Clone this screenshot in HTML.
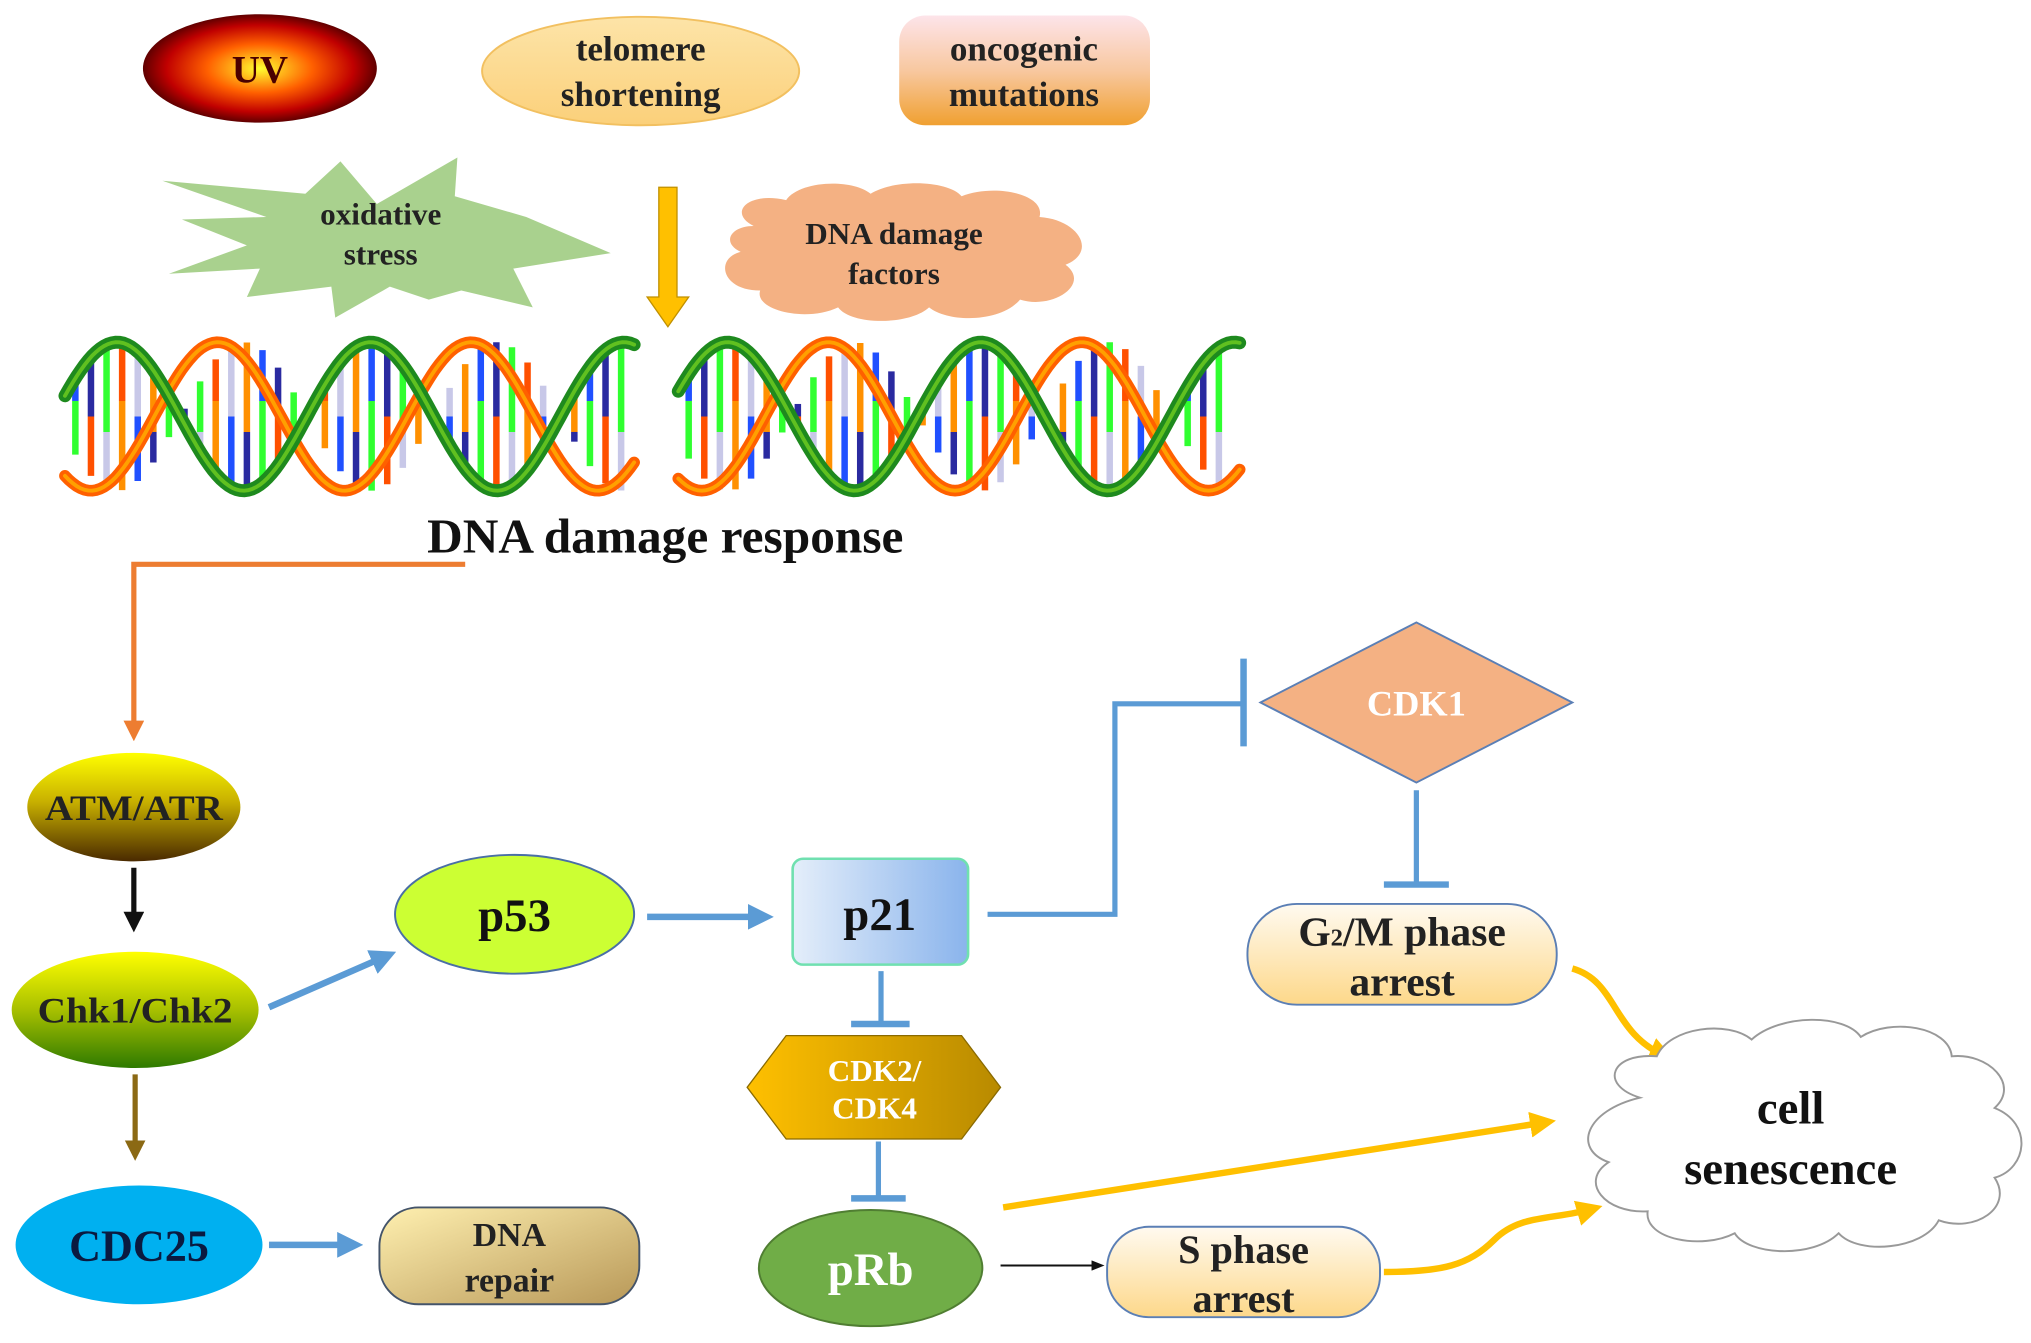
<!DOCTYPE html>
<html><head><meta charset="utf-8"><style>
html,body{margin:0;padding:0;background:#fff;}
svg{display:block;}
text{font-family:"Liberation Serif",serif;font-weight:bold;text-anchor:middle;}
</style></head><body>
<svg id="s" width="2031" height="1343" viewBox="0 0 1563 1040" preserveAspectRatio="none" xmlns="http://www.w3.org/2000/svg">
<defs>
<radialGradient id="uv" cx="50%" cy="50%" r="50%"><stop offset="0" stop-color="#ffff30"/><stop offset="0.45" stop-color="#ff6000"/><stop offset="0.8" stop-color="#c00000"/><stop offset="1" stop-color="#600000"/></radialGradient>
<linearGradient id="onc" x1="0" y1="0" x2="0" y2="1"><stop offset="0" stop-color="#fde4ea"/><stop offset="0.5" stop-color="#f8c8a0"/><stop offset="1" stop-color="#f0a030"/></linearGradient>
<linearGradient id="atm" x1="0" y1="0" x2="0" y2="1"><stop offset="0" stop-color="#ffff00"/><stop offset="0.45" stop-color="#c8b000"/><stop offset="1" stop-color="#4a2a00"/></linearGradient>
<linearGradient id="chk" x1="0" y1="0" x2="0" y2="1"><stop offset="0" stop-color="#ffff00"/><stop offset="0.5" stop-color="#a8c000"/><stop offset="1" stop-color="#2e7a00"/></linearGradient>
<linearGradient id="rep" x1="0" y1="0" x2="1" y2="1"><stop offset="0" stop-color="#fff0b0"/><stop offset="1" stop-color="#b89858"/></linearGradient>
<linearGradient id="p21" x1="0" y1="0" x2="1" y2="0"><stop offset="0" stop-color="#e4eefa"/><stop offset="1" stop-color="#8ab4ec"/></linearGradient>
<linearGradient id="hex" x1="0" y1="0" x2="1" y2="0"><stop offset="0" stop-color="#ffc000"/><stop offset="1" stop-color="#b88a00"/></linearGradient>
<linearGradient id="ph" x1="0" y1="0" x2="0" y2="1"><stop offset="0" stop-color="#fffaf0"/><stop offset="1" stop-color="#fdd88a"/></linearGradient>
<linearGradient id="tel" x1="0" y1="0" x2="0" y2="1"><stop offset="0" stop-color="#fde4a8"/><stop offset="1" stop-color="#fbd07a"/></linearGradient>
<marker id="ab" markerWidth="4" markerHeight="4" refX="2.5" refY="2" orient="auto" markerUnits="strokeWidth"><path d="M0,0L4,2L0,4z" fill="#5b9bd5"/></marker>
<marker id="ay" markerWidth="4" markerHeight="4" refX="2.5" refY="2" orient="auto" markerUnits="strokeWidth"><path d="M0,0L4,2L0,4z" fill="#ffc000"/></marker>
<marker id="ak" markerWidth="4" markerHeight="4" refX="2.5" refY="2" orient="auto" markerUnits="strokeWidth"><path d="M0,0L4,2L0,4z" fill="#111"/></marker>
<marker id="akt" markerWidth="10" markerHeight="8" refX="8" refY="4" orient="auto" markerUnits="userSpaceOnUse"><path d="M0,0L10,4L0,8z" fill="#111"/></marker>
<marker id="abr" markerWidth="4" markerHeight="4" refX="2.5" refY="2" orient="auto" markerUnits="strokeWidth"><path d="M0,0L4,2L0,4z" fill="#8b6914"/></marker>
<marker id="ao" markerWidth="4" markerHeight="4" refX="2.5" refY="2" orient="auto" markerUnits="strokeWidth"><path d="M0,0L4,2L0,4z" fill="#ed7d31"/></marker>
</defs>
<g id="dna"></g>
<ellipse cx="200" cy="53" rx="90" ry="42" fill="url(#uv)"/>
<text x="200" y="64" font-size="30" fill="#4a0000">UV</text>
<ellipse cx="493" cy="55" rx="122" ry="42" fill="url(#tel)" stroke="#f2c060" stroke-width="1.5"/>
<text x="493" y="47" font-size="27" fill="#222">telomere</text>
<text x="493" y="82" font-size="27" fill="#222">shortening</text>
<rect x="692" y="12" width="193" height="85" rx="20" fill="url(#onc)"/>
<text x="788" y="47" font-size="27" fill="#222">oncogenic</text>
<text x="788" y="82" font-size="27" fill="#222">mutations</text>
<polygon points="125,140 235,150 262,125 290,158 352,122 350,152 405,168 470,196 395,208 410,238 355,225 330,232 300,222 258,246 255,222 190,230 200,208 130,212 190,190 140,170 205,168" fill="#a9d18e"/>
<text x="293" y="174" font-size="24" fill="#222">oxidative</text>
<text x="293" y="205" font-size="24" fill="#222">stress</text>
<path d="M507,145 H521 V230 H530 L514,253 L498,230 H507 Z" fill="#ffc000" stroke="#c09000" stroke-width="1"/>
<path d="M580,175 C560,165 575,148 605,155 C615,140 655,138 670,150 C690,138 730,140 740,152 C765,142 805,150 800,168 C830,170 845,195 820,205 C840,220 810,240 785,232 C770,250 730,250 715,238 C700,252 655,252 645,238 C620,250 580,240 585,225 C555,225 550,200 570,195 C555,188 562,175 580,175 Z" fill="#f4b183"/>
<text x="688" y="189" font-size="24" fill="#222">DNA damage</text>
<text x="688" y="220" font-size="24" fill="#222">factors</text>
<text x="512" y="428" font-size="38" fill="#111">DNA damage response</text>
<polyline points="358,437 103,437 103,568" fill="none" stroke="#ed7d31" stroke-width="4" marker-end="url(#ao)"/>
<ellipse cx="103" cy="625" rx="82" ry="42" fill="url(#atm)"/>
<text x="103" y="635" font-size="28" fill="#222" textLength="137" lengthAdjust="spacingAndGlyphs">ATM/ATR</text>
<line x1="103" y1="672" x2="103" y2="716" stroke="#111" stroke-width="4" marker-end="url(#ak)"/>
<ellipse cx="104" cy="782" rx="95" ry="45" fill="url(#chk)"/>
<text x="104" y="792" font-size="28" fill="#222" textLength="150" lengthAdjust="spacingAndGlyphs">Chk1/Chk2</text>
<line x1="104" y1="832" x2="104" y2="893" stroke="#8b6914" stroke-width="4" marker-end="url(#abr)"/>
<ellipse cx="107" cy="964" rx="95" ry="46" fill="#00b0f0"/>
<text x="107" y="976" font-size="34" fill="#0a1a40">CDC25</text>
<line x1="207" y1="964" x2="272" y2="964" stroke="#5b9bd5" stroke-width="5" marker-end="url(#ab)"/>
<rect x="292" y="935" width="200" height="75" rx="30" fill="url(#rep)" stroke="#44546a" stroke-width="1.5"/>
<text x="392" y="965" font-size="26" fill="#222">DNA</text>
<text x="392" y="1000" font-size="26" fill="#222">repair</text>
<line x1="207" y1="780" x2="298" y2="740" stroke="#5b9bd5" stroke-width="5" marker-end="url(#ab)"/>
<ellipse cx="396" cy="708" rx="92" ry="46" fill="#ccff33" stroke="#4a6fa5" stroke-width="1.5"/>
<text x="396" y="721" font-size="36" fill="#111">p53</text>
<line x1="498" y1="710" x2="588" y2="710" stroke="#5b9bd5" stroke-width="5" marker-end="url(#ab)"/>
<rect x="610" y="665" width="135" height="82" rx="8" fill="url(#p21)" stroke="#70e0b0" stroke-width="2"/>
<text x="677" y="720" font-size="36" fill="#111">p21</text>
<polyline points="760,708 858,708 858,545 955,545" fill="none" stroke="#5b9bd5" stroke-width="4"/>
<line x1="957" y1="510" x2="957" y2="578" stroke="#5b9bd5" stroke-width="5"/>
<polygon points="970,544 1090,482 1210,544 1090,606" fill="#f4b183" stroke="#5b7fb5" stroke-width="1.5"/>
<text x="1090" y="554" font-size="28" fill="#fff">CDK1</text>
<line x1="1090" y1="612" x2="1090" y2="684" stroke="#5b9bd5" stroke-width="4"/>
<line x1="1065" y1="685" x2="1115" y2="685" stroke="#5b9bd5" stroke-width="5"/>
<rect x="960" y="700" width="238" height="78" rx="38" fill="url(#ph)" stroke="#5b7fb5" stroke-width="1.5"/>
<text x="1079" y="732" font-size="32" fill="#222">G<tspan font-size="19">2</tspan>/M phase</text>
<text x="1079" y="771" font-size="32" fill="#222">arrest</text>
<line x1="678" y1="752" x2="678" y2="792" stroke="#5b9bd5" stroke-width="4"/>
<line x1="655" y1="793" x2="700" y2="793" stroke="#5b9bd5" stroke-width="5"/>
<polygon points="575,842 605,802 740,802 770,842 740,882 605,882" fill="url(#hex)" stroke="#8a6a00" stroke-width="1"/>
<text x="673" y="837" font-size="24" fill="#fff">CDK2/</text>
<text x="673" y="866" font-size="24" fill="#fff">CDK4</text>
<line x1="676" y1="884" x2="676" y2="927" stroke="#5b9bd5" stroke-width="4"/>
<line x1="655" y1="928" x2="697" y2="928" stroke="#5b9bd5" stroke-width="5"/>
<ellipse cx="670" cy="982" rx="86" ry="45" fill="#70ad47" stroke="#507e32" stroke-width="1.5"/>
<text x="670" y="995" font-size="36" fill="#fff">pRb</text>
<line x1="770" y1="980" x2="848" y2="980" stroke="#111" stroke-width="1.5" marker-end="url(#akt)"/>
<rect x="852" y="950" width="210" height="70" rx="32" fill="url(#ph)" stroke="#5b7fb5" stroke-width="1.5"/>
<text x="957" y="978" font-size="31" fill="#222">S phase</text>
<text x="957" y="1016" font-size="31" fill="#222">arrest</text>
<line x1="772" y1="935" x2="1190" y2="869" stroke="#ffc000" stroke-width="5" marker-end="url(#ay)"/>
<path d="M1210,750 C1245,760 1240,800 1282,818" fill="none" stroke="#ffc000" stroke-width="5" marker-end="url(#ay)"/>
<path d="M1065,985 C1110,985 1130,980 1150,960 C1170,940 1195,945 1226,936" fill="none" stroke="#ffc000" stroke-width="5" marker-end="url(#ay)"/>
<path d="M1262,850 C1230,840 1240,815 1275,818 C1285,795 1330,790 1348,805 C1370,785 1420,785 1432,803 C1455,788 1500,795 1502,818 C1530,815 1555,840 1535,858 C1565,870 1560,905 1535,912 C1550,935 1520,955 1492,945 C1480,968 1430,972 1415,955 C1395,975 1345,972 1335,955 C1310,968 1265,960 1268,938 C1235,940 1215,915 1238,900 C1210,890 1220,860 1262,850 Z" fill="#fff" stroke="#999" stroke-width="1.5"/>
<text x="1378" y="870" font-size="36" fill="#111">cell</text>
<text x="1378" y="917" font-size="36" fill="#111">senescence</text>
</svg>
<script>
(function(){
var g=document.getElementById('dna'),NS='http://www.w3.org/2000/svg';
function el(n,a){var e=document.createElementNS(NS,n);for(var k in a)e.setAttribute(k,a[k]);g.appendChild(e);return e;}
function helix(x0,x1,ph){
 var top=265,bot=380,mid=(top+bot)/2,amp=(bot-top)/2,P=195;
 var cols=['#2050ff','#2a2aa0','#30ff30','#ff5000','#c8c8e8','#ff9000'];
 var i=0;
 for(var x=x0+8;x<x1-5;x+=12){
   var a=mid-amp*Math.cos((x-ph)*2*Math.PI/P),b=mid+amp*Math.cos((x-ph)*2*Math.PI/P);
   var y1=Math.min(a,b),y2=Math.max(a,b);
   if(y2-y1<10)continue;
   var ym=(y1+y2)/2+((i%3)-1)*12;
   el('line',{x1:x,y1:y1,x2:x,y2:ym,stroke:cols[i%6],'stroke-width':5});
   el('line',{x1:x,y1:ym,x2:x,y2:y2,stroke:cols[(i+2)%6],'stroke-width':5});
   i++;
 }
 function strand(off,c1,w){
   var d='';for(var x=x0;x<=x1;x+=3){var y=mid-amp*Math.cos((x-ph-off)*2*Math.PI/P);d+=(d?'L':'M')+x+','+y.toFixed(1);}
   el('path',{d:d,fill:'none',stroke:c1,'stroke-width':w,'stroke-linecap':'round'});
 }
 strand(P/2-20,'#ff6000',9);strand(P/2-20,'#ffa000',3);
 strand(0,'#1e8a1e',10);strand(0,'#60c020',3);
}
helix(50,488,90);helix(522,955,560);
})();
</script>
</body></html>
